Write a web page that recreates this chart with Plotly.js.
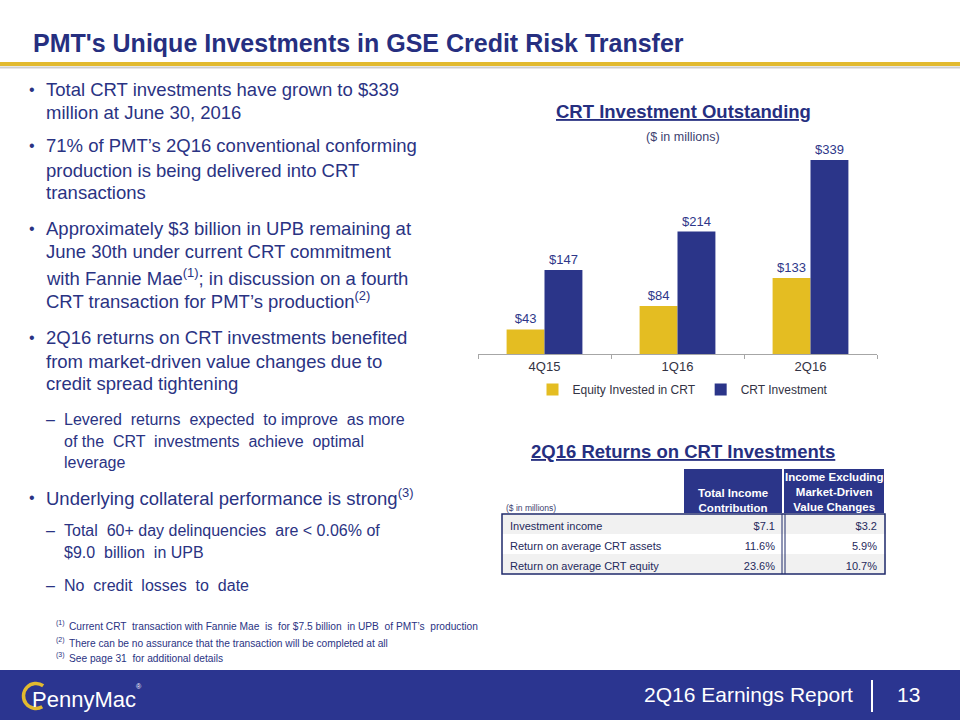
<!DOCTYPE html>
<html><head><meta charset="utf-8">
<script src="https://cdn.plot.ly/plotly-3.0.1.min.js"></script>
<style>html,body{margin:0;padding:0;background:#fff;}#chart{width:960px;height:720px;}</style>
</head><body><div id="chart"></div>
<script>
// ---------- DATA ----------
const categories = ['4Q15', '1Q16', '2Q16'];
const equityInvested = [43, 84, 133];
const crtInvestment = [147, 214, 339];
const seriesNames = ['Equity Invested in CRT', 'CRT Investment'];

const tableRowLabels = ['Investment income', 'Return on average CRT assets', 'Return on average CRT equity'];
const totalIncomeContribution = ['$7.1', '11.6%', '23.6%'];
const incomeExMarketDriven = ['$3.2', '5.9%', '10.7%'];
const tableHeaders = ['($ in millions)', 'Total Income<br>Contribution', 'Income Excluding<br>Market-Driven<br>Value Changes'];

// ---------- LAYOUT HELPERS ----------
const W = 960, H = 720;
const px = x => x / W;
const py = y => 1 - y / H;
const FONT = 'Liberation Sans, Arial, sans-serif';
const NAVY = '#2B3589';
const TEXT = '#2A3383';
const GOLD = '#E4BD22';

const annotations = [];
function txt(x, y, text, size, color, opts) {
  annotations.push(Object.assign({
    xref: 'paper', yref: 'paper', x: px(x), y: py(y), text: text, showarrow: false,
    xanchor: 'left', yanchor: 'middle', font: {family: FONT, size: size, color: color}
  }, opts || {}));
}

// Page title
txt(31, 43, '<b>PMT\'s Unique Investments in GSE Credit Risk Transfer</b>', 25, '#262F80');

// Bullet text (layout only)
const bodyLines = [
  ['b', 89, 'Total CRT investments have grown to $339'],
  ['c', 112, 'million at June 30, 2016'],
  ['b', 146, '71% of PMT’s 2Q16 conventional conforming'],
  ['c', 170, 'production is being delivered into CRT'],
  ['c', 193, 'transactions'],
  ['b', 228, 'Approximately $3 billion in UPB remaining at'],
  ['c', 252, 'June 30th under current CRT commitment'],
  ['c', 277, 'with Fannie Mae<sup>(1)</sup>; in discussion on a fourth'],
  ['c', 300, 'CRT transaction for PMT’s production<sup>(2)</sup>'],
  ['b', 337, '2Q16 returns on CRT investments benefited'],
  ['c', 361, 'from market-driven value changes due to'],
  ['c', 383, 'credit spread tightening'],
  ['s', 419, 'Levered  returns  expected  to improve  as more'],
  ['sc', 441, 'of the  CRT  investments  achieve  optimal'],
  ['sc', 462, 'leverage'],
  ['b', 497, 'Underlying collateral performance is strong<sup>(3)</sup>'],
  ['s', 530, 'Total  60+ day delinquencies  are &lt; 0.06% of'],
  ['sc', 552, '$9.0  billion  in UPB'],
  ['s', 585, 'No  credit  losses  to  date']
];
bodyLines.forEach(([k, y, t]) => {
  if (k === 'b') { txt(27, y, '•', 16, TEXT); txt(44, y, t, 18.5, TEXT); }
  else if (k === 'c') { txt(44, y, t, 18.5, TEXT); }
  else if (k === 's') { txt(44, y, '–', 16, TEXT); txt(62, y, t, 16, TEXT); }
  else { txt(62, y, t, 16, TEXT); }
});

// Footnotes
const notes = [
  [626, '(1)', 'Current CRT  transaction with Fannie Mae  is  for $7.5 billion  in UPB  of PMT’s  production'],
  [643, '(2)', 'There can be no assurance that the transaction will be completed at all'],
  [658, '(3)', 'See page 31  for additional details']
];
notes.forEach(([y, s, t]) => {
  txt(54, y - 3, s, 7, TEXT);
  txt(67, y, t, 10.2, TEXT);
});

// Chart titles
txt(683, 111, '<b><u>CRT Investment Outstanding</u></b>', 18.5, '#262F80', {xanchor: 'center'});
txt(683, 137, '($ in millions)', 12.5, '#3C4170', {xanchor: 'center'});
txt(683, 451, '<b><u>2Q16 Returns on CRT Investments</u></b>', 18.5, '#262F80', {xanchor: 'center'});

// Table header labels
const colX = [502, 683, 783, 885];
txt(504, 508, tableHeaders[0], 8.5, '#3C4170');
txt((colX[1] + colX[2]) / 2, 500, '<b>' + tableHeaders[1] + '</b>', 11.5, '#FFFFFF', {xanchor: 'center'});
txt((colX[2] + colX[3]) / 2, 492, '<b>' + tableHeaders[2] + '</b>', 11.5, '#FFFFFF', {xanchor: 'center'});

// Footer
txt(855, 694, '2Q16 Earnings Report', 21, '#FFFFFF', {xanchor: 'right'});
txt(908, 694, '13', 21, '#FFFFFF', {xanchor: 'center'});
txt(30, 699, 'PennyMac', 22, '#FFFFFF');
txt(134, 686, '®', 7, '#FFFFFF');

// Arc path (for logo) from cubic beziers, pixel -> paper
function arcPath(cx, cy, r, a0, a1) {
  const toP = (X, Yup) => px(X).toFixed(5) + ',' + (Yup / H).toFixed(5);
  const cyUp = H - cy;
  const n = Math.ceil(Math.abs(a1 - a0) / 90);
  const step = (a1 - a0) / n;
  let d = '';
  for (let i = 0; i < n; i++) {
    const t1 = (a0 + i * step) * Math.PI / 180, t2 = (a0 + (i + 1) * step) * Math.PI / 180;
    const al = 4 / 3 * Math.tan((t2 - t1) / 4);
    const x1 = cx + r * Math.cos(t1), y1 = cyUp + r * Math.sin(t1);
    const x2 = cx + r * Math.cos(t2), y2 = cyUp + r * Math.sin(t2);
    const c1x = x1 - al * r * Math.sin(t1), c1y = y1 + al * r * Math.cos(t1);
    const c2x = x2 + al * r * Math.sin(t2), c2y = y2 - al * r * Math.cos(t2);
    if (i === 0) d += 'M' + toP(x1, y1);
    d += ' C' + toP(c1x, c1y) + ' ' + toP(c2x, c2y) + ' ' + toP(x2, y2);
  }
  return d;
}

const shapes = [
  // title rule
  {type: 'line', xref: 'paper', yref: 'paper', x0: 0, x1: 1, y0: py(67.5), y1: py(67.5), line: {color: '#CFCFCF', width: 2}},
  {type: 'line', xref: 'paper', yref: 'paper', x0: 0, x1: 1, y0: py(64), y1: py(64), line: {color: '#E2BA2F', width: 4}},
  // footer band
  {type: 'rect', xref: 'paper', yref: 'paper', x0: 0, x1: 1, y0: 0, y1: py(670), fillcolor: '#2B3590', line: {width: 0}, layer: 'below'},
  {type: 'line', xref: 'paper', yref: 'paper', x0: px(872), x1: px(872), y0: py(680), y1: py(712), line: {color: '#FFFFFF', width: 2}},
  {type: 'path', xref: 'paper', yref: 'paper', path: arcPath(36, 696, 12.5, 55, 300), line: {color: '#E2BA2F', width: 3.5}},
  // table body frame
  {type: 'rect', xref: 'paper', yref: 'paper', x0: px(502), x1: px(885), y0: py(574), y1: py(514), line: {color: '#1F2A6B', width: 1.5}},
  {type: 'line', xref: 'paper', yref: 'paper', x0: px(782), x1: px(782), y0: py(574), y1: py(514), line: {color: '#1F2A6B', width: 1}},
  {type: 'line', xref: 'paper', yref: 'paper', x0: px(785), x1: px(785), y0: py(574), y1: py(514), line: {color: '#1F2A6B', width: 1}}
];

const rowFill = ['#F1F1F1', '#FFFFFF', '#F1F1F1'];

const traces = [
  {type: 'bar', name: seriesNames[0], x: categories, y: equityInvested,
   marker: {color: GOLD}, text: equityInvested.map(v => '$' + v), textposition: 'outside',
   textfont: {family: FONT, size: 13, color: '#2E3789'}, cliponaxis: false, hoverinfo: 'none'},
  {type: 'bar', name: seriesNames[1], x: categories, y: crtInvestment,
   marker: {color: NAVY}, text: crtInvestment.map(v => '$' + v), textposition: 'outside',
   textfont: {family: FONT, size: 13, color: '#2E3789'}, cliponaxis: false, hoverinfo: 'none'},
  {type: 'table',
   domain: {x: [px(502), px(885)], y: [py(574), py(468)]},
   columnwidth: [colX[1] - colX[0], colX[2] - colX[1], colX[3] - colX[2]],
   header: {values: [[''], [''], ['']], height: 46,
            fill: {color: ['#FFFFFF', NAVY, NAVY]},
            line: {color: ['#FFFFFF', '#FFFFFF', '#FFFFFF'], width: 2},
            font: {family: FONT, size: 11, color: '#FFFFFF'}},
   cells: {values: [tableRowLabels, totalIncomeContribution, incomeExMarketDriven], height: 20,
           align: ['left', 'right', 'right'],
           fill: {color: [rowFill, rowFill, rowFill]},
           line: {color: [rowFill, rowFill, rowFill], width: 1},
           font: {family: FONT, size: 11, color: '#1F2A5C'}}}
];

const layout = {
  width: W, height: H, margin: {l: 0, r: 0, t: 0, b: 0},
  paper_bgcolor: '#FFFFFF', plot_bgcolor: 'rgba(0,0,0,0)',
  barmode: 'group', bargap: 0.43, bargroupgap: 0,
  showlegend: true,
  legend: {orientation: 'h', x: px(683), xanchor: 'center', y: py(375), yanchor: 'top',
           font: {family: FONT, size: 12, color: '#333344'}, bgcolor: 'rgba(0,0,0,0)'},
  xaxis: {domain: [px(478), px(877)], type: 'category', showline: true, linecolor: '#A6A6A6', linewidth: 1,
          ticks: 'outside', tickson: 'boundaries', ticklen: 4, tickcolor: '#A6A6A6',
          tickfont: {family: FONT, size: 13, color: '#333344'}, showgrid: false, zeroline: false, fixedrange: true},
  yaxis: {domain: [py(354), py(150)], range: [0, 356.5], visible: false, showgrid: false, zeroline: false, fixedrange: true},
  annotations: annotations,
  shapes: shapes,
  font: {family: FONT}
};

Plotly.newPlot('chart', traces, layout, {displayModeBar: false, staticPlot: true});
</script>
</body></html>
